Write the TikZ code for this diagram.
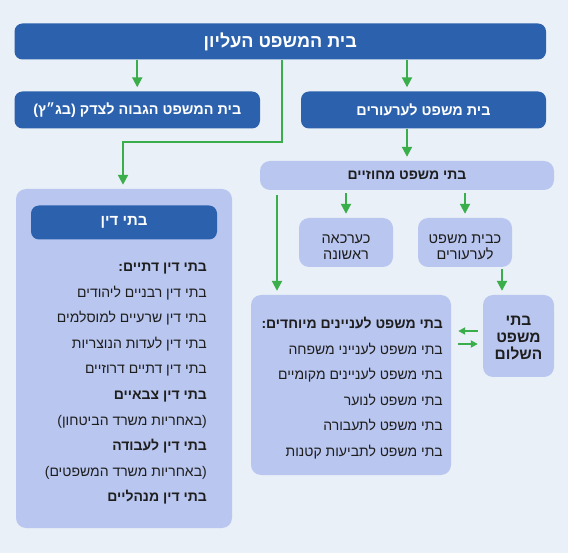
\documentclass[tikz,border=0pt]{standalone}
\usepackage{fontspec}
\setmainfont[Script=Hebrew]{Liberation Sans}
\TeXXeTstate=1
\usetikzlibrary{arrows.meta}
\newcommand\rl[1]{\beginR #1\endR}
\definecolor{bgc}{HTML}{E9F0F7}
\definecolor{darkb}{HTML}{2C62AD}
\definecolor{lightb}{HTML}{B9C6EF}
\definecolor{grn}{HTML}{3AAE4A}
\definecolor{txt}{HTML}{1E1E1E}
\tikzset{
  darkbox/.style={fill=darkb, rounded corners=8pt, text=white, font=\bfseries, inner sep=0pt},
  lightbox/.style={fill=lightb, rounded corners=10pt, text=txt, inner sep=0pt},
  boxtext/.style={text=txt, align=center, inner sep=0pt},
  arr/.style={draw=grn, line width=2pt, -{Triangle[length=10pt,width=10pt]}, shorten >=4pt},
  sarr/.style={draw=grn, line width=2pt, -{Triangle[length=7pt,width=7pt]}},
  line/.style={text=txt, font=\fontsize{14}{16}\selectfont, anchor=east, text height=9pt, text depth=3pt, inner sep=0pt},
  bline/.style={line, font=\bfseries\fontsize{14}{16}\selectfont},
}
\begin{document}
\begin{tikzpicture}[x=1pt,y=-1pt]
\fill[bgc] (0,0) rectangle (568,553);
\useasboundingbox (0,0) rectangle (568,553);
% boxes
\node[darkbox, minimum width=531.5pt, minimum height=36pt, font=\bfseries\fontsize{18}{22}\selectfont] (top) at (280.25,41.5) {\rl{בית המשפט העליון}};
\node[darkbox, minimum width=245.5pt, minimum height=37pt, font=\bfseries\fontsize{14.4}{18}\selectfont] (hcj) at (137.25,110) {\rl{בית המשפט הגבוה לצדק (בג״ץ)}};
\node[darkbox, minimum width=245pt, minimum height=37pt, font=\bfseries\fontsize{14.4}{18}\selectfont] (appeals) at (423.5,110) {\rl{בית משפט לערעורים}};
\node[lightbox, minimum width=294pt, minimum height=29pt, font=\bfseries\fontsize{14}{17}\selectfont] (district) at (407,175.5) {\rl{בתי משפט מחוזיים}};
\node[lightbox, minimum width=94pt, minimum height=49pt] (first) at (346,242.5) {};
\node[boxtext, font=\fontsize{14.5}{16}\selectfont] (firstt) at (346,247) {\rl{כערכאה}\\\rl{ראשונה}};
\node[lightbox, minimum width=94pt, minimum height=49pt] (appeal2) at (465,242.5) {};
\node[boxtext, font=\fontsize{14.5}{16}\selectfont] (appeal2t) at (465,247) {\rl{כבית משפט}\\\rl{לערעורים}};
\node[lightbox, minimum width=71pt, minimum height=82pt] (shalom) at (518.5,336) {};
\node[boxtext, font=\bfseries\fontsize{15.5}{16.8}\selectfont] (shalomt) at (518.5,338) {\rl{בתי}\\\rl{משפט}\\\rl{השלום}};
\node[lightbox, minimum width=200pt, minimum height=180pt] (special) at (351,385) {};
\node[lightbox, minimum width=216pt, minimum height=339pt] (dinim) at (124,358.5) {};
\node[darkbox, minimum width=186pt, minimum height=34pt, font=\bfseries\fontsize{15}{18}\selectfont] (dinhead) at (124,222.5) {\rl{בתי דין}};
% special lines
\node[bline] (s1) at (443,326) {\rl{בתי משפט לעניינים מיוחדים:}};
\node[line] (s2) at (443,351.5) {\rl{בתי משפט לענייני משפחה}};
\node[line] (s3) at (443,377) {\rl{בתי משפט לעניינים מקומיים}};
\node[line] (s4) at (443,402.5) {\rl{בתי משפט לנוער}};
\node[line] (s5) at (443,428) {\rl{בתי משפט לתעבורה}};
\node[line] (s6) at (443,453.5) {\rl{בתי משפט לתביעות קטנות}};
% dinim lines
\node[bline] (d1) at (207,269) {\rl{בתי דין דתיים:}};
\node[line] (d2) at (207,294.5) {\rl{בתי דין רבניים ליהודים}};
\node[line] (d3) at (207,320) {\rl{בתי דין שרעיים למוסלמים}};
\node[line] (d4) at (207,345.5) {\rl{בתי דין לעדות הנוצריות}};
\node[line] (d5) at (207,371) {\rl{בתי דין דתיים דרוזיים}};
\node[bline] (d6) at (207,396.5) {\rl{בתי דין צבאיים}};
\node[line] (d7) at (207,422) {\rl{(באחריות משרד הביטחון)}};
\node[bline] (d8) at (207,447.5) {\rl{בתי דין לעבודה}};
\node[line] (d9) at (207,473) {\rl{(באחריות משרד המשפטים)}};
\node[bline] (d10) at (207,498.5) {\rl{בתי דין מנהליים}};
% helper coordinates
\coordinate (b1) at (282,142);
\coordinate (b2) at (123,142);
\coordinate (xs) at (277,0);
\coordinate (xh) at (502,0);
\coordinate (ya) at (0,331);
\coordinate (yb) at (0,344);
% arrows
\draw[arr] (top.south -| hcj.north) -- (hcj.north);
\draw[arr] (top.south -| district.north) -- (appeals.north -| district.north);
\draw[arr] (appeals.south -| district.north) -- (district.north);
\draw[arr] (top.south -| b1) -- (b1) -- (b2) -- (dinim.north -| b2);
\draw[arr, shorten <=3pt] (district.south -| first.north) -- (first.north);
\draw[arr, shorten <=3pt] (district.south -| appeal2.north) -- (appeal2.north);
\draw[arr, shorten <=5pt] (district.south -| xs) -- (special.north -| xs);
\draw[arr, shorten <=2pt] (appeal2.south -| xh) -- (shalom.north -| xh);
\draw[sarr, shorten <=5pt, shorten >=7pt] (shalom.west |- ya) -- (special.east |- ya);
\draw[sarr, shorten <=7pt, shorten >=5pt] (special.east |- yb) -- (shalom.west |- yb);
\end{tikzpicture}
\end{document}
